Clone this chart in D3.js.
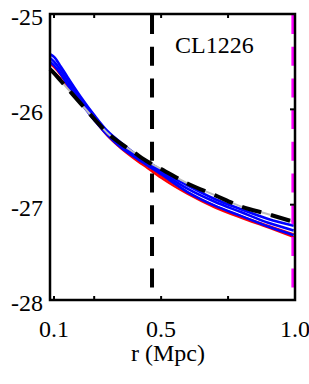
<!DOCTYPE html>
<html>
<head>
<meta charset="utf-8">
<script src="https://cdn.jsdelivr.net/npm/d3@7"></script>
<style>
body { margin: 0; background: #fff; }
svg text { font-family: "Liberation Serif", Times, "Times New Roman", serif; }
</style>
</head>
<body>
<script>
// radius (Mpc) sample points
var radius = [0.085, 0.1, 0.125, 0.15, 0.2, 0.25, 0.3, 0.35, 0.4, 0.45, 0.5, 0.6, 0.7, 0.8, 0.9, 0.995];

var blackVals = [-25.58, -25.62, -25.70, -25.78, -25.94, -26.10, -26.25, -26.36, -26.455, -26.55, -26.625, -26.78, -26.90, -27.02, -27.10, -27.18];
var blueA = [-25.42, -25.45, -25.55, -25.66, -25.87, -26.06, -26.23, -26.35, -26.46, -26.55, -26.64, -26.80, -26.94, -27.05, -27.15, -27.22];
var blueB = [-25.46, -25.50, -25.59, -25.70, -25.90, -26.08, -26.25, -26.37, -26.48, -26.57, -26.66, -26.835, -26.97, -27.08, -27.19, -27.27];
var blueC = [-25.50, -25.54, -25.63, -25.74, -25.93, -26.11, -26.27, -26.40, -26.50, -26.59, -26.68, -26.87, -27.01, -27.12, -27.23, -27.32];
var redA = [-25.52, -25.56, -25.64, -25.74, -25.91, -26.09, -26.26, -26.39, -26.50, -26.60, -26.70, -26.87, -27.01, -27.12, -27.22, -27.31];
var redB = [-25.58, -25.61, -25.68, -25.77, -25.93, -26.11, -26.28, -26.41, -26.52, -26.62, -26.72, -26.89, -27.03, -27.14, -27.24, -27.34];

var xTicks = [0.1, 0.25, 0.5, 0.75, 1.0];
var xLabels = [0.1, 0.5, 1.0];
var yTicks = [-26, -27];
var yLabels = [-25, -26, -27, -28];
var blackLineR = 0.466;
var magentaLineR = 0.994;

var w = 309, h = 384;
var x = d3.scaleLinear().domain([0.085, 1.0]).range([50, 295]);
var y = d3.scaleLinear().domain([-25, -28]).range([14, 300]);

var svg = d3.select("body").append("svg")
	.attr("width", w)
	.attr("height", h);

function pts(vals) {
	return radius.map(function(r, i) { return [r, vals[i]]; });
}
var line = d3.line()
	.x(function(d) { return x(d[0]); })
	.y(function(d) { return y(d[1]); })
	.curve(d3.curveMonotoneX);

var plot = svg.append("g");

[redB, redA].forEach(function(v) {
	plot.append("path").attr("d", line(pts(v)))
		.attr("fill", "none").attr("stroke", "#ff0000").attr("stroke-width", 2);
});
[blueC, blueB, blueA].forEach(function(v) {
	plot.append("path").attr("d", line(pts(v)))
		.attr("fill", "none").attr("stroke", "#0000ff").attr("stroke-width", 2.6);
});
plot.append("path").attr("d", line(pts(blackVals)))
	.attr("fill", "none").attr("stroke", "#bdbdbd").attr("stroke-width", 2);
plot.append("path").attr("d", line(pts(blackVals)))
	.attr("fill", "none").attr("stroke", "#000").attr("stroke-width", 4)
	.attr("stroke-dasharray", "20,10");

// vertical dashed markers
svg.append("line")
	.attr("x1", x(blackLineR)).attr("x2", x(blackLineR))
	.attr("y1", y(-25) + 1).attr("y2", y(-28))
	.attr("stroke", "#000").attr("stroke-width", 4)
	.attr("stroke-dasharray", "19,12.7");
svg.append("line")
	.attr("x1", x(magentaLineR)).attr("x2", x(magentaLineR))
	.attr("y1", y(-25) + 1).attr("y2", y(-28))
	.attr("stroke", "#ff00ff").attr("stroke-width", 4)
	.attr("stroke-dasharray", "19,12.7");

// frame
svg.append("rect")
	.attr("x", 50).attr("y", 14)
	.attr("width", 245).attr("height", 286)
	.attr("fill", "none").attr("stroke", "#000").attr("stroke-width", 2.5);

// ticks
xTicks.forEach(function(t) {
	svg.append("line").attr("x1", x(t)).attr("x2", x(t))
		.attr("y1", 300).attr("y2", 296).attr("stroke", "#000").attr("stroke-width", 2);
	svg.append("line").attr("x1", x(t)).attr("x2", x(t))
		.attr("y1", 14).attr("y2", 18).attr("stroke", "#000").attr("stroke-width", 2);
});
yTicks.forEach(function(t) {
	svg.append("line").attr("x1", 295).attr("x2", 290)
		.attr("y1", y(t)).attr("y2", y(t)).attr("stroke", "#000").attr("stroke-width", 2);
});

// tick labels
svg.selectAll(".xl").data(xLabels).enter().append("text")
	.attr("x", function(d) { return x(d); })
	.attr("y", 337)
	.attr("text-anchor", "middle")
	.attr("font-size", "24px")
	.text(function(d) { return d.toFixed(1); });

svg.selectAll(".yl").data(yLabels).enter().append("text")
	.attr("x", 43)
	.attr("y", function(d) { return y(d) + 11; })
	.attr("text-anchor", "end")
	.attr("font-size", "24px")
	.text(function(d) { return d; });

svg.append("text")
	.attr("x", 168).attr("y", 361)
	.attr("text-anchor", "middle")
	.attr("font-size", "24px")
	.text("r (Mpc)");

svg.append("text")
	.attr("x", 175).attr("y", 53)
	.attr("font-size", "24px")
	.text("CL1226");
</script>
</body>
</html>
